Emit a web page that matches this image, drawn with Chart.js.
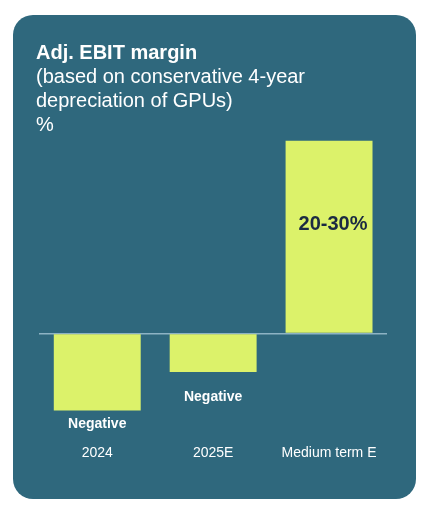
<!DOCTYPE html>
<html lang="en">
<head>
    <meta charset="UTF-8">
    <meta name="viewport" content="width=device-width, initial-scale=1.0">
    <title>Adj. EBIT margin</title>
    <script src="https://cdn.jsdelivr.net/npm/chart.js"></script>
    <style>
        body {
            margin: 0;
            background-color: #ffffff;
            font-family: "Liberation Sans", Arial, sans-serif;
        }
        #card {
            position: absolute;
            left: 13px;
            top: 15px;
            width: 403px;
            height: 484px;
            background-color: #2f687d;
            border-radius: 20px;
            overflow: hidden;
        }
    </style>
</head>
<body>
    <div id="card">
        <canvas id="marginChart"></canvas>
    </div>

    <script>
        // chart data
        const categories = ['2024', '2025E', 'Medium term E'];
        const marginValues = [-10, -5, 25]; // illustrative heights, %
        const valueLabels = ['Negative', 'Negative', '20-30%'];

        const FONT = '"Liberation Sans", Arial, sans-serif';
        const BAR_COLOR = '#dcf26a';

        // draws the text under / inside each bar
        const barLabels = {
            id: 'barLabels',
            afterDatasetsDraw(chart, args, opts) {
                const ctx = chart.ctx;
                const meta = chart.getDatasetMeta(0);
                ctx.save();
                ctx.textAlign = 'center';
                ctx.textBaseline = 'middle';
                meta.data.forEach((bar, i) => {
                    const inside = marginValues[i] > 0;
                    ctx.font = inside ? 'bold 20px ' + FONT : 'bold 14px ' + FONT;
                    ctx.fillStyle = inside ? '#1b2a42' : '#ffffff';
                    ctx.fillText(valueLabels[i], bar.x + opts.shiftX[i], bar.y + opts.offsetY[i]);
                });
                ctx.restore();
            }
        };

        new Chart(document.getElementById('marginChart'), {
            type: 'bar',
            data: {
                labels: categories,
                datasets: [{
                    data: marginValues,
                    backgroundColor: BAR_COLOR,
                    borderWidth: 0,
                    barPercentage: 0.75,
                    categoryPercentage: 1
                }]
            },
            options: {
                responsive: true,
                maintainAspectRatio: false,
                animation: false,
                layout: {
                    padding: { left: 23, right: 29, top: 0, bottom: 33 }
                },
                scales: {
                    x: {
                        grid: { display: false, drawTicks: false },
                        border: { display: false },
                        ticks: {
                            color: '#ffffff',
                            padding: 4,
                            font: { family: FONT, size: 14 }
                        }
                    },
                    y: {
                        min: -14,
                        max: 25.5,
                        z: 1,
                        afterFit(scale) { scale.width = 3.3; },
                        border: { display: false },
                        grid: {
                            drawTicks: false,
                            lineWidth: 1.5,
                            color: (c) => c.tick && c.tick.value === 0 ? '#8db3c4' : 'transparent'
                        },
                        ticks: { display: false, stepSize: 2 }
                    }
                },
                plugins: {
                    legend: { display: false },
                    tooltip: { enabled: false },
                    title: {
                        display: true,
                        text: 'Adj. EBIT margin',
                        align: 'start',
                        color: '#ffffff',
                        font: { family: FONT, size: 20, weight: 'bold', lineHeight: 1.2 },
                        padding: { top: 26, bottom: 0 }
                    },
                    subtitle: {
                        display: true,
                        text: ['(based on conservative 4-year', 'depreciation of GPUs)', '%'],
                        align: 'start',
                        color: '#ffffff',
                        font: { family: FONT, size: 20, weight: 'normal', lineHeight: 1.2 },
                        padding: { top: 0, bottom: 0 }
                    },
                    barLabels: {
                        offsetY: [14, 25, 84],
                        shiftX: [0, 0, 4]
                    }
                }
            },
            plugins: [barLabels]
        });
    </script>
</body>
</html>
